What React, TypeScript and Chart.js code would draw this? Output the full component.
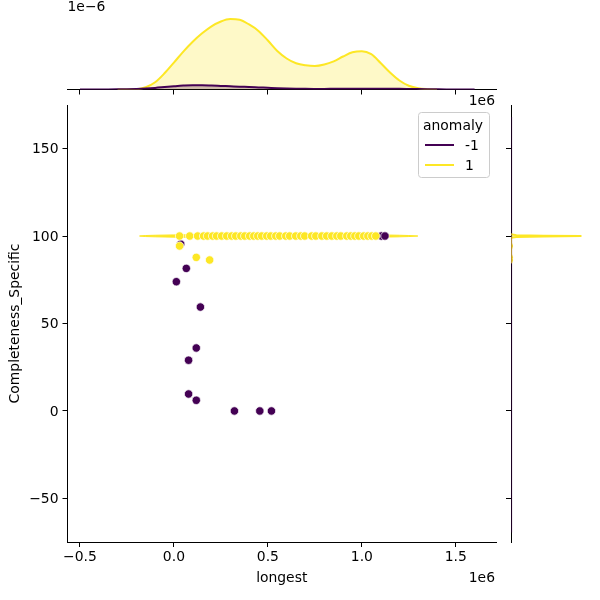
import React, { useEffect, useRef } from 'react';
import { Chart, registerables } from 'chart.js';

Chart.register(...registerables);

// ---- data -------------------------------------------------------------
const X_TICKS = [-500000, 0, 500000, 1000000, 1500000];
const Y_TICKS = [-50, 0, 50, 100, 150];
const X_MIN = -566300;
const X_MAX = 1713900;
const Y_MIN = -74.9;
const Y_MAX = 174.9;

// anomaly = 1
const normalLongest = [
  30000, 84000, 126000, 158000, 179000, 206000, 227000, 254000, 281000, 307000,
  329000, 356000, 377000, 403000, 425000, 446000, 467000, 494000, 515000, 542000,
  563000, 595000, 616000, 648000, 675000, 696000, 733000, 755000, 787000, 813000,
  840000, 867000, 888000, 920000, 941000, 963000, 984000, 1010000, 1032000, 1053000,
  1074000, 30000, 119000, 190000,
];
const normalCompleteness = [
  100, 100, 100, 100, 100, 100, 100, 100, 100, 100,
  100, 100, 100, 100, 100, 100, 100, 100, 100, 100,
  100, 100, 100, 100, 100, 100, 100, 100, 100, 100,
  100, 100, 100, 100, 100, 100, 100, 100, 100, 100,
  100, 94.3, 87.8, 86.3,
];

// anomaly = -1
const anomalyLongest = [36000, 66000, 13000, 141000, 119000, 78000, 78000, 119000, 322000, 457000, 519000, 1104000, 1123000];
const anomalyCompleteness = [95.4, 81.5, 73.9, 59.4, 36.0, 29.0, 9.7, 6.1, 0, 0, 0, 100, 100];

// joint density band around Completeness_Specific = 100 (anomaly = 1)
const bandCenter = 100;
const bandLongest = [-183000, -150000, -100000, 0, 300000, 700000, 1100000, 1200000, 1250000, 1298000];
const bandHalfSpread = [0, 0.3, 0.45, 0.65, 0.85, 0.85, 0.65, 0.45, 0.3, 0];

// marginal density of "longest"
const kdeNormalLongest = [
  -300000, -250000, -200000, -150000, -100000, -50000, 0, 50000, 100000, 150000,
  200000, 250000, 300000, 350000, 400000, 450000, 500000, 550000, 600000, 650000,
  700000, 750000, 800000, 850000, 900000, 950000, 1000000, 1050000, 1100000, 1150000,
  1200000, 1250000, 1300000, 1350000, 1400000,
];
const kdeNormalDensity = [
  0, 0.001e-6, 0.004e-6, 0.035e-6, 0.115e-6, 0.258e-6, 0.428e-6, 0.604e-6, 0.761e-6, 0.895e-6,
  1.006e-6, 1.083e-6, 1.121e-6, 1.110e-6, 1.035e-6, 0.933e-6, 0.780e-6, 0.613e-6, 0.494e-6, 0.417e-6,
  0.385e-6, 0.374e-6, 0.398e-6, 0.449e-6, 0.525e-6, 0.592e-6, 0.610e-6, 0.562e-6, 0.422e-6, 0.271e-6,
  0.143e-6, 0.059e-6, 0.019e-6, 0.005e-6, 0,
];
const kdeAnomalyLongest = [
  -500000, -450000, -400000, -350000, -300000, -250000, -200000, -150000, -100000, -50000,
  0, 50000, 100000, 150000, 200000, 250000, 300000, 350000, 400000, 450000,
  500000, 550000, 600000, 650000, 700000, 750000, 800000, 850000, 900000, 950000,
  1000000, 1050000, 1100000, 1150000, 1200000, 1250000, 1300000, 1350000, 1400000, 1450000,
  1500000, 1550000, 1600000,
];
const kdeAnomalyDensity = [
  0, 0.0008e-6, 0.0013e-6, 0.0019e-6, 0.0032e-6, 0.0056e-6, 0.0096e-6, 0.0159e-6, 0.0255e-6, 0.0382e-6,
  0.051e-6, 0.0621e-6, 0.0685e-6, 0.0685e-6, 0.0637e-6, 0.0573e-6, 0.051e-6, 0.0446e-6, 0.0398e-6, 0.0334e-6,
  0.0271e-6, 0.0207e-6, 0.0159e-6, 0.0127e-6, 0.0104e-6, 0.0096e-6, 0.0096e-6, 0.0104e-6, 0.0111e-6, 0.0119e-6,
  0.0127e-6, 0.0135e-6, 0.0135e-6, 0.0127e-6, 0.0111e-6, 0.0088e-6, 0.0064e-6, 0.0045e-6, 0.0029e-6, 0.0016e-6,
  0.0008e-6, 0.0003e-6, 0,
];
const TOP_DENSITY_MAX = 1.186e-6;

// marginal density of "Completeness_Specific"
const kdeNormalCompleteness = [84.5, 86.3, 87.0, 87.8, 89.5, 92.5, 94.3, 96.0, 99.0, 99.5, 99.8, 100, 100.2, 100.5, 101.0, 101.5];
const kdeNormalCompDensity = [0, 0.02, 0.01, 0.02, 0, 0, 0.02, 0, 0, 0.1, 0.6, 1.3, 0.6, 0.1, 0, 0];
const kdeAnomalyCompleteness = [-69, -50, -25, 0, 25, 50, 75, 100, 125, 150, 168];
const kdeAnomalyCompDensity = [0, 0.006, 0.01, 0.012, 0.012, 0.011, 0.011, 0.011, 0.01, 0.006, 0];
const RIGHT_DENSITY_MAX = 1.365;

// ---- styling ----------------------------------------------------------
const FONT = "'DejaVu Sans', sans-serif";
const FS = 13.9;
const PURPLE = '#440154';
const YELLOW = '#fde725';
const PURPLE_FILL = 'rgba(68, 1, 84, 0.25)';
const YELLOW_FILL = 'rgba(253, 231, 37, 0.25)';

const fmtX = (v: number) => (v / 1e6).toFixed(1).replace('-', '\u2212');
const fmtY = (v: number) => String(v).replace('-', '\u2212');

const zip = (xs: number[], ys: number[]) => xs.map((x, i) => ({ x, y: ys[i] }));

const tickGrid = { drawOnChartArea: false, drawTicks: true, tickLength: 5, tickColor: '#000', tickWidth: 1 };
const spine = { display: true, color: '#000', width: 1 };
const baseOptions = {
  responsive: false,
  animation: false as const,
  devicePixelRatio: 1,
  events: [] as any[],
};
const noPlugins = { legend: { display: false }, tooltip: { enabled: false } };

const textPlugin = (id: string, draw: (ctx: CanvasRenderingContext2D, chart: any) => void) => ({
  id,
  afterDraw(chart: any) {
    const ctx = chart.ctx as CanvasRenderingContext2D;
    ctx.save();
    ctx.font = `${FS}px ${FONT}`;
    ctx.fillStyle = '#000';
    draw(ctx, chart);
    ctx.restore();
  },
});

function mainConfig(): any {
  const band = [
    ...bandLongest.map((x, i) => ({ x, y: bandCenter + bandHalfSpread[i] })),
    ...bandLongest.map((x, i) => ({ x, y: bandCenter - bandHalfSpread[i] })).reverse(),
  ];
  return {
    type: 'scatter',
    data: {
      datasets: [
        {
          label: '1',
          data: zip(normalLongest, normalCompleteness),
          pointRadius: 4.2,
          pointBackgroundColor: YELLOW,
          pointBorderColor: '#ffffff',
          pointBorderWidth: 0.7,
          order: 0,
        },
        {
          label: '-1',
          data: zip(anomalyLongest, anomalyCompleteness),
          pointRadius: 4.2,
          pointBackgroundColor: PURPLE,
          pointBorderColor: '#ffffff',
          pointBorderWidth: 0.7,
          order: 1,
        },
        {
          label: 'density',
          data: band,
          showLine: true,
          fill: 'shape',
          backgroundColor: YELLOW,
          borderColor: YELLOW,
          borderWidth: 1,
          pointRadius: 0,
          order: 2,
        },
      ],
    },
    options: {
      ...baseOptions,
      layout: { padding: { left: 0, right: 104, top: 105, bottom: 0 } },
      scales: {
        x: {
          type: 'linear',
          min: X_MIN,
          max: X_MAX,
          afterBuildTicks: (s: any) => { s.ticks = X_TICKS.map((value) => ({ value })); },
          afterFit: (s: any) => { s.height = 58; },
          grid: tickGrid,
          border: spine,
          ticks: { color: '#000', font: { family: FONT, size: FS }, padding: 2, maxRotation: 0, autoSkip: false, callback: (v: any) => fmtX(Number(v)) },
          title: { display: true, text: 'longest', color: '#000', font: { family: FONT, size: FS }, padding: { top: 0, bottom: 13 } },
        },
        y: {
          type: 'linear',
          min: Y_MIN,
          max: Y_MAX,
          afterBuildTicks: (s: any) => { s.ticks = Y_TICKS.map((value) => ({ value })); },
          afterFit: (s: any) => { s.width = 67.5; },
          grid: tickGrid,
          border: spine,
          ticks: { color: '#000', font: { family: FONT, size: FS }, padding: 4, labelOffset: 1, autoSkip: false, callback: (v: any) => fmtY(Number(v)) },
          title: { display: true, text: 'Completeness_Specific', color: '#000', font: { family: FONT, size: FS }, padding: { top: 7, bottom: 0 } },
        },
      },
      plugins: noPlugins,
    },
    plugins: [
      textPlugin('mainText', (ctx, chart) => {
        const area = chart.chartArea;
        // x offset label
        ctx.textAlign = 'right';
        ctx.textBaseline = 'alphabetic';
        ctx.fillText('1e6', area.right - 1, 582);
        // legend
        const bx = 418.5, by = 112.5, bw = 71, bh = 65;
        ctx.beginPath();
        (ctx as any).roundRect(bx, by, bw, bh, 3);
        ctx.fillStyle = 'rgba(255,255,255,0.8)';
        ctx.fill();
        ctx.strokeStyle = '#cccccc';
        ctx.lineWidth = 1;
        ctx.stroke();
        ctx.fillStyle = '#000';
        ctx.textAlign = 'center';
        ctx.fillText('anomaly', bx + bw / 2 - 1, 130);
        const entries: [string, string, number][] = [['-1', PURPLE, 145], ['1', YELLOW, 165]];
        ctx.lineWidth = 2;
        for (const [label, color, y] of entries) {
          ctx.strokeStyle = color;
          ctx.beginPath();
          ctx.moveTo(425, y);
          ctx.lineTo(454, y);
          ctx.stroke();
          ctx.textAlign = 'left';
          ctx.fillText(label, 465, y + 5);
        }
      }),
    ],
  };
}

function topConfig(): any {
  return {
    type: 'scatter',
    data: {
      datasets: [
        {
          label: '-1',
          data: zip(kdeAnomalyLongest, kdeAnomalyDensity),
          showLine: true,
          fill: 'origin',
          backgroundColor: PURPLE_FILL,
          borderColor: PURPLE,
          borderWidth: 2,
          pointRadius: 0,
          cubicInterpolationMode: 'monotone',
          order: 0,
        },
        {
          label: '1',
          data: zip(kdeNormalLongest, kdeNormalDensity),
          showLine: true,
          fill: 'origin',
          backgroundColor: YELLOW_FILL,
          borderColor: YELLOW,
          borderWidth: 2,
          pointRadius: 0,
          cubicInterpolationMode: 'monotone',
          order: 1,
        },
      ],
    },
    options: {
      ...baseOptions,
      layout: { padding: { left: 67.5, right: 104, top: 15, bottom: 0 } },
      scales: {
        x: {
          type: 'linear',
          min: X_MIN,
          max: X_MAX,
          z: 1,
          afterBuildTicks: (s: any) => { s.ticks = X_TICKS.map((value) => ({ value })); },
          afterFit: (s: any) => { s.height = 510.5; },
          grid: tickGrid,
          border: spine,
          ticks: { display: false },
        },
        y: { type: 'linear', display: false, min: 0, max: TOP_DENSITY_MAX },
      },
      plugins: noPlugins,
    },
    plugins: [
      textPlugin('topText', (ctx, chart) => {
        const area = chart.chartArea;
        ctx.textBaseline = 'alphabetic';
        ctx.textAlign = 'left';
        ctx.fillText('1e\u22126', area.left, 11);
        ctx.textAlign = 'right';
        ctx.fillText('1e6', area.right - 1, 105);
      }),
    ],
  };
}

function rightConfig(): any {
  return {
    type: 'scatter',
    data: {
      datasets: [
        {
          label: '1',
          data: zip(kdeNormalCompDensity, kdeNormalCompleteness),
          showLine: true,
          fill: 'shape',
          backgroundColor: YELLOW_FILL,
          borderColor: YELLOW,
          borderWidth: 2,
          pointRadius: 0,
          order: 1,
        },
        {
          label: '-1',
          data: zip(kdeAnomalyCompDensity, kdeAnomalyCompleteness),
          showLine: true,
          fill: 'shape',
          backgroundColor: PURPLE_FILL,
          borderColor: 'rgba(68, 1, 84, 0.35)',
          borderWidth: 1.5,
          pointRadius: 0,
          order: 0,
        },
      ],
    },
    options: {
      ...baseOptions,
      layout: { padding: { left: 0, right: 15, top: 105, bottom: 58 } },
      scales: {
        x: { type: 'linear', display: false, min: 0, max: RIGHT_DENSITY_MAX },
        y: {
          type: 'linear',
          min: Y_MIN,
          max: Y_MAX,
          z: 1,
          afterBuildTicks: (s: any) => { s.ticks = Y_TICKS.map((value) => ({ value })); },
          afterFit: (s: any) => { s.width = 511; },
          grid: tickGrid,
          border: spine,
          ticks: { display: false },
        },
      },
      plugins: noPlugins,
    },
  };
}

export default function App() {
  const mainRef = useRef<HTMLCanvasElement>(null);
  const topRef = useRef<HTMLCanvasElement>(null);
  const rightRef = useRef<HTMLCanvasElement>(null);

  useEffect(() => {
    const charts = [
      new Chart(topRef.current as HTMLCanvasElement, topConfig()),
      new Chart(rightRef.current as HTMLCanvasElement, rightConfig()),
      new Chart(mainRef.current as HTMLCanvasElement, mainConfig()),
    ];
    return () => charts.forEach((c) => c.destroy());
  }, []);

  const layer: React.CSSProperties = { position: 'absolute', left: 0, top: 0, width: 600, height: 600 };
  return (
    <div style={{ position: 'absolute', left: 0, top: 0, width: 600, height: 600, background: '#ffffff' }}>
      <canvas ref={topRef} width={600} height={600} style={layer} />
      <canvas ref={rightRef} width={600} height={600} style={layer} />
      <canvas ref={mainRef} width={600} height={600} style={layer} />
    </div>
  );
}
